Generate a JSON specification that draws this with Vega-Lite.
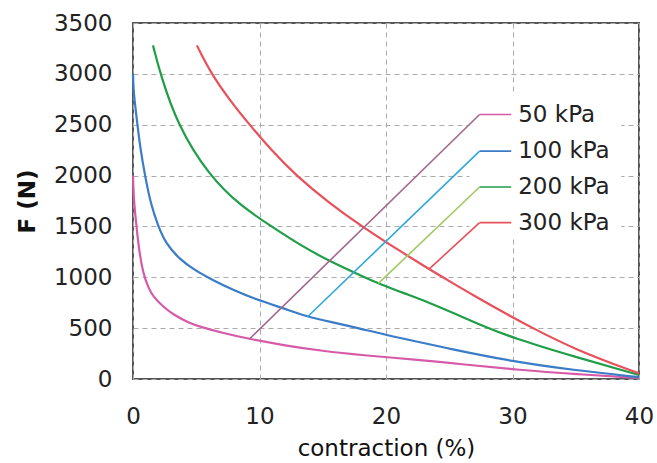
{
  "$schema": "https://vega.github.io/schema/vega-lite/v6.json",
  "width": 506,
  "height": 356,
  "autosize": {"type": "none"},
  "padding": {"left": 133, "top": 23, "right": 18, "bottom": 84},
  "background": "white",
  "config": {
    "view": {"stroke": "#555555", "strokeWidth": 2},
    "font": "DejaVu Sans",
    "axis": {
      "labelFont": "DejaVu Sans",
      "labelFontSize": 23,
      "labelColor": "#222222",
      "titleFont": "DejaVu Sans",
      "titleFontSize": 23,
      "titleColor": "#111111",
      "ticks": false,
      "tickSize": 0,
      "domain": false,
      "gridColor": "#aaaaaa",
      "gridDash": [5, 4],
      "gridWidth": 1
    }
  },
  "datasets": {
    "curves": [
      {"c": "50 kPa", "seg": "50 kPa", "x": 0, "F": 2000},
      {"c": "50 kPa", "seg": "50 kPa", "x": 0.05, "F": 1800},
      {"c": "50 kPa", "seg": "50 kPa", "x": 0.15, "F": 1650},
      {"c": "50 kPa", "seg": "50 kPa", "x": 0.3, "F": 1470},
      {"c": "50 kPa", "seg": "50 kPa", "x": 0.5, "F": 1250},
      {"c": "50 kPa", "seg": "50 kPa", "x": 0.8, "F": 1040},
      {"c": "50 kPa", "seg": "50 kPa", "x": 1.2, "F": 900},
      {"c": "50 kPa", "seg": "50 kPa", "x": 1.6, "F": 810},
      {"c": "50 kPa", "seg": "50 kPa", "x": 2.3, "F": 720},
      {"c": "50 kPa", "seg": "50 kPa", "x": 3.2, "F": 630},
      {"c": "50 kPa", "seg": "50 kPa", "x": 4.5, "F": 548},
      {"c": "50 kPa", "seg": "50 kPa", "x": 5.3, "F": 514},
      {"c": "50 kPa", "seg": "50 kPa", "x": 7, "F": 455},
      {"c": "50 kPa", "seg": "50 kPa", "x": 9.2, "F": 393},
      {"c": "50 kPa", "seg": "50 kPa", "x": 12, "F": 330},
      {"c": "50 kPa", "seg": "50 kPa", "x": 15, "F": 275},
      {"c": "50 kPa", "seg": "50 kPa", "x": 18, "F": 235},
      {"c": "50 kPa", "seg": "50 kPa", "x": 22.7, "F": 187},
      {"c": "50 kPa", "seg": "50 kPa", "x": 26, "F": 145},
      {"c": "50 kPa", "seg": "50 kPa", "x": 30.6, "F": 88},
      {"c": "50 kPa", "seg": "50 kPa", "x": 35, "F": 48},
      {"c": "50 kPa", "seg": "50 kPa", "x": 40, "F": 10},

      {"c": "100 kPa", "seg": "100 kPa", "x": 0, "F": 3000},
      {"c": "100 kPa", "seg": "100 kPa", "x": 0.03, "F": 2880},
      {"c": "100 kPa", "seg": "100 kPa", "x": 0.1, "F": 2760},
      {"c": "100 kPa", "seg": "100 kPa", "x": 0.35, "F": 2500},
      {"c": "100 kPa", "seg": "100 kPa", "x": 0.6, "F": 2250},
      {"c": "100 kPa", "seg": "100 kPa", "x": 0.95, "F": 2000},
      {"c": "100 kPa", "seg": "100 kPa", "x": 1.4, "F": 1720},
      {"c": "100 kPa", "seg": "100 kPa", "x": 2.0, "F": 1500},
      {"c": "100 kPa", "seg": "100 kPa", "x": 2.6, "F": 1330},
      {"c": "100 kPa", "seg": "100 kPa", "x": 3.7, "F": 1175},
      {"c": "100 kPa", "seg": "100 kPa", "x": 4.9, "F": 1068},
      {"c": "100 kPa", "seg": "100 kPa", "x": 6.3, "F": 973},
      {"c": "100 kPa", "seg": "100 kPa", "x": 8, "F": 870},
      {"c": "100 kPa", "seg": "100 kPa", "x": 9.5, "F": 793},
      {"c": "100 kPa", "seg": "100 kPa", "x": 12, "F": 690},
      {"c": "100 kPa", "seg": "100 kPa", "x": 13.8, "F": 612},
      {"c": "100 kPa", "seg": "100 kPa", "x": 15.5, "F": 564},
      {"c": "100 kPa", "seg": "100 kPa", "x": 17.9, "F": 498},
      {"c": "100 kPa", "seg": "100 kPa", "x": 20, "F": 432},
      {"c": "100 kPa", "seg": "100 kPa", "x": 25, "F": 298},
      {"c": "100 kPa", "seg": "100 kPa", "x": 30, "F": 172},
      {"c": "100 kPa", "seg": "100 kPa", "x": 35, "F": 85},
      {"c": "100 kPa", "seg": "100 kPa", "x": 40, "F": 18},

      {"c": "200 kPa", "seg": "200 kPa", "x": 1.58, "F": 3280},
      {"c": "200 kPa", "seg": "200 kPa", "x": 2.16, "F": 3000},
      {"c": "200 kPa", "seg": "200 kPa", "x": 3.5, "F": 2500},
      {"c": "200 kPa", "seg": "200 kPa", "x": 6.0, "F": 2000},
      {"c": "200 kPa", "seg": "200 kPa", "x": 8.5, "F": 1700},
      {"c": "200 kPa", "seg": "200 kPa", "x": 11.2, "F": 1480},
      {"c": "200 kPa", "seg": "200 kPa", "x": 13.3, "F": 1310},
      {"c": "200 kPa", "seg": "200 kPa", "x": 15.5, "F": 1160},
      {"c": "200 kPa", "seg": "200 kPa", "x": 18.4, "F": 995},
      {"c": "200 kPa", "seg": "200 kPa", "x": 19.4, "F": 940},
      {"c": "200 kPa", "seg": "200 kPa", "x": 21.5, "F": 840},
      {"c": "200 kPa", "seg": "200 kPa", "x": 23.4, "F": 752},
      {"c": "200 kPa", "seg": "200 kPa", "x": 25.5, "F": 640},
      {"c": "200 kPa", "seg": "200 kPa", "x": 27.6, "F": 525},
      {"c": "200 kPa", "seg": "200 kPa", "x": 30, "F": 405},
      {"c": "200 kPa", "seg": "200 kPa", "x": 35, "F": 215},
      {"c": "200 kPa", "seg": "200 kPa", "x": 40, "F": 40},

      {"c": "300 kPa", "seg": "300 kPa", "x": 5.05, "F": 3280},
      {"c": "300 kPa", "seg": "300 kPa", "x": 6.19, "F": 3000},
      {"c": "300 kPa", "seg": "300 kPa", "x": 7.6, "F": 2750},
      {"c": "300 kPa", "seg": "300 kPa", "x": 9.21, "F": 2500},
      {"c": "300 kPa", "seg": "300 kPa", "x": 11, "F": 2240},
      {"c": "300 kPa", "seg": "300 kPa", "x": 12.9, "F": 2000},
      {"c": "300 kPa", "seg": "300 kPa", "x": 15.5, "F": 1731},
      {"c": "300 kPa", "seg": "300 kPa", "x": 18.1, "F": 1500},
      {"c": "300 kPa", "seg": "300 kPa", "x": 20, "F": 1345},
      {"c": "300 kPa", "seg": "300 kPa", "x": 23.4, "F": 1080},
      {"c": "300 kPa", "seg": "300 kPa", "x": 24.3, "F": 1015},
      {"c": "300 kPa", "seg": "300 kPa", "x": 27, "F": 815},
      {"c": "300 kPa", "seg": "300 kPa", "x": 30, "F": 607},
      {"c": "300 kPa", "seg": "300 kPa", "x": 31.3, "F": 520},
      {"c": "300 kPa", "seg": "300 kPa", "x": 35, "F": 285},
      {"c": "300 kPa", "seg": "300 kPa", "x": 40, "F": 55}
    ],
    "leaders": [
      {"c": "50 d", "seg": "50 d", "x": 9.2, "F": 393},
      {"c": "50 d", "seg": "50 d", "x": 27.4, "F": 2600},
      {"c": "50 kPa", "seg": "50 h", "x": 27.4, "F": 2600},
      {"c": "50 kPa", "seg": "50 h", "x": 29.9, "F": 2600},
      {"c": "100 d", "seg": "100 d", "x": 13.8, "F": 612},
      {"c": "100 d", "seg": "100 d", "x": 27.4, "F": 2240},
      {"c": "100 kPa", "seg": "100 h", "x": 27.4, "F": 2240},
      {"c": "100 kPa", "seg": "100 h", "x": 29.9, "F": 2240},
      {"c": "200 d", "seg": "200 d", "x": 19.4, "F": 940},
      {"c": "200 d", "seg": "200 d", "x": 27.4, "F": 1888},
      {"c": "200 kPa", "seg": "200 h", "x": 27.4, "F": 1888},
      {"c": "200 kPa", "seg": "200 h", "x": 29.9, "F": 1888},
      {"c": "300 d", "seg": "300 d", "x": 23.4, "F": 1080},
      {"c": "300 d", "seg": "300 d", "x": 27.4, "F": 1537},
      {"c": "300 kPa", "seg": "300 h", "x": 27.4, "F": 1537},
      {"c": "300 kPa", "seg": "300 h", "x": 29.9, "F": 1537}
    ],
    "labels": [
      {"label": "50 kPa", "x": 29.9, "F": 2600},
      {"label": "100 kPa", "x": 29.9, "F": 2240},
      {"label": "200 kPa", "x": 29.9, "F": 1888},
      {"label": "300 kPa", "x": 29.9, "F": 1537}
    ],
    "box": [
      {"x1": 26.6, "x2": 38.6, "F1": 1400, "F2": 2790}
    ]
  },
  "layer": [
    {
      "data": {"name": "box"},
      "mark": {"type": "rect", "color": "white"},
      "encoding": {
        "x": {"field": "x1", "type": "quantitative", "scale": {"domain": [0, 40], "nice": false},
              "axis": {"values": [0, 10, 20, 30, 40], "format": "d", "title": "contraction (%)", "labelPadding": 26, "titlePadding": 9, "titleFontWeight": "normal", "labelFlush": false}},
        "x2": {"field": "x2"},
        "y": {"field": "F1", "type": "quantitative", "scale": {"domain": [0, 3500], "nice": false},
              "axis": {"values": [0, 500, 1000, 1500, 2000, 2500, 3000, 3500], "format": "d", "title": "F (N)", "labelPadding": 21, "titlePadding": 14, "titleFontWeight": "bold"}},
        "y2": {"field": "F2"}
      }
    },
    {
      "data": {"name": "curves"},
      "mark": {"type": "line", "interpolate": "basis", "strokeWidth": 2.2},
      "encoding": {
        "x": {"field": "x", "type": "quantitative"},
        "y": {"field": "F", "type": "quantitative"},
        "detail": {"field": "seg"},
        "color": {"field": "c", "type": "nominal", "legend": null,
                  "scale": {"domain": ["50 kPa", "100 kPa", "200 kPa", "300 kPa", "50 d", "100 d", "200 d", "300 d"],
                            "range": ["#d65aa8", "#3a7cc8", "#1f9e48", "#e8505a", "#a2678c", "#2ea8d8", "#a2c862", "#e8505a"]}}
      }
    },
    {
      "data": {"name": "leaders"},
      "mark": {"type": "line", "strokeWidth": 1.6},
      "encoding": {
        "x": {"field": "x", "type": "quantitative"},
        "y": {"field": "F", "type": "quantitative"},
        "detail": {"field": "seg"},
        "color": {"field": "c", "type": "nominal", "legend": null}
      }
    },
    {
      "data": {"name": "labels"},
      "mark": {"type": "text", "align": "left", "baseline": "middle", "dx": 7, "fontSize": 23, "font": "DejaVu Sans", "color": "#222222"},
      "encoding": {
        "x": {"field": "x", "type": "quantitative"},
        "y": {"field": "F", "type": "quantitative"},
        "text": {"field": "label"}
      }
    }
  ]
}
